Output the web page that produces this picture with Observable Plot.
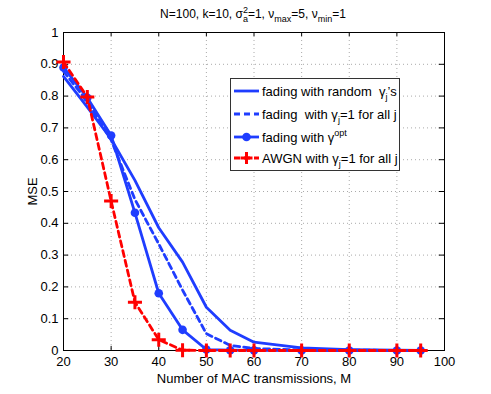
<!DOCTYPE html>
<html>
<head>
<meta charset="utf-8">
<script src="https://cdn.jsdelivr.net/npm/d3@7"></script>
<script src="https://cdn.jsdelivr.net/npm/@observablehq/plot@0.6"></script>
<style>
  html, body { margin: 0; padding: 0; background: #fff; }
  #chart { width: 491px; height: 394px; }
</style>
</head>
<body>
<div id="chart"></div>
<script>
const M = [20, 25, 30, 35, 40, 45, 50, 55, 60, 70, 80, 90, 95];
const randomGamma = [0.862, 0.765, 0.665, 0.535, 0.386, 0.278, 0.136, 0.064, 0.026, 0.008, 0.003, 0.001, 0.0005];
const unitGamma   = [0.878, 0.783, 0.662, 0.475, 0.335, 0.19, 0.053, 0.016, 0.006, 0.002, 0.001, 0.0005, 0.0003];
const optGamma    = [0.89, 0.795, 0.676, 0.433, 0.18, 0.065, 0.003, 0.001, 0.0005, 0, 0, 0, 0];
const awgn        = [0.907, 0.797, 0.47, 0.152, 0.034, 0.001, 0, 0, 0, 0, 0, 0, 0];
const xTicks = [20, 30, 40, 50, 60, 70, 80, 90, 100];
const yTicks = [0, 0.1, 0.2, 0.3, 0.4, 0.5, 0.6, 0.7, 0.8, 0.9, 1];
const yTickLabels = ["0", "0.1", "0.2", "0.3", "0.4", "0.5", "0.6", "0.7", "0.8", "0.9", "1"];

const BLUE = "#1f3dff";
const RED = "#ff0000";

const rows = (ys) => M.map((m, i) => ({m, v: ys[i]}));

const plot = Plot.plot({
  width: 491,
  height: 394,
  marginLeft: 63,
  marginRight: 47,
  marginTop: 32,
  marginBottom: 44,
  style: {fontFamily: "'Liberation Sans', Arial, sans-serif", fontSize: "13px", color: "black", background: "white"},
  x: {domain: [20, 100]},
  y: {domain: [0, 1]},
  marks: [
    Plot.gridX(xTicks.slice(1, -1), {stroke: "#aaa", strokeOpacity: 1, strokeDasharray: "1,3"}),
    Plot.gridY(yTicks.slice(1, -1), {stroke: "#aaa", strokeOpacity: 1, strokeDasharray: "1,3"}),
    Plot.ruleX(xTicks, {y1: 0, y2: 0.013, stroke: "black"}),
    Plot.ruleX(xTicks, {y1: 0.987, y2: 1, stroke: "black"}),
    Plot.ruleY(yTicks, {x1: 20, x2: 21.1, stroke: "black"}),
    Plot.ruleY(yTicks, {x1: 98.9, x2: 100, stroke: "black"}),
    Plot.axisX({ticks: xTicks, tickSize: 0, tickPadding: 6, fontSize: 13, label: "Number of MAC transmissions, M", labelAnchor: "center", labelArrow: "none", labelOffset: 32}),
    Plot.axisY({ticks: yTicks, tickFormat: (d) => yTickLabels[yTicks.indexOf(d)], tickSize: 0, tickPadding: 5, fontSize: 13, label: "MSE", labelAnchor: "center", labelArrow: "none", labelOffset: 36}),
    Plot.frame({stroke: "black"}),
    Plot.line(rows(randomGamma), {x: "m", y: "v", stroke: BLUE, strokeWidth: 2.8}),
    Plot.line(rows(unitGamma), {x: "m", y: "v", stroke: BLUE, strokeWidth: 2.8, strokeDasharray: "6,4"}),
    Plot.line(rows(optGamma), {x: "m", y: "v", stroke: BLUE, strokeWidth: 2.8}),
    Plot.dot(rows(optGamma), {x: "m", y: "v", fill: BLUE, r: 4.3}),
    Plot.line(rows(awgn), {x: "m", y: "v", stroke: RED, strokeWidth: 2.8, strokeDasharray: "6,4"}),
    Plot.dot(rows(awgn), {x: "m", y: "v", symbol: "plus", stroke: RED, strokeWidth: 3, r: 4.6})
  ]
});
document.getElementById("chart").appendChild(plot);

const svg = d3.select(plot);
const FONT = "'Liberation Sans', Arial, sans-serif";

// Title with sub/superscripts
const title = svg.append("text")
  .attr("x", 253).attr("y", 18)
  .attr("text-anchor", "middle")
  .attr("font-family", FONT).attr("font-size", 12).attr("fill", "black");
title.append("tspan").text("N=100, k=10, \u03C3");
title.append("tspan").attr("font-size", 9).attr("dy", -5).text("2");
title.append("tspan").attr("font-size", 9).attr("dx", -5).attr("dy", 9).text("a");
title.append("tspan").attr("dy", -4).text("=1, \u03BD");
title.append("tspan").attr("font-size", 9).attr("dy", 4).text("max");
title.append("tspan").attr("dy", -4).text("=5, \u03BD");
title.append("tspan").attr("font-size", 9).attr("dy", 4).text("min");
title.append("tspan").attr("dy", -4).text("=1");

// Legend
const lg = svg.append("g").attr("font-family", FONT).attr("font-size", 13).attr("fill", "black").attr("text-anchor", "start");
lg.append("rect").attr("x", 230.5).attr("y", 78.5).attr("width", 169).attr("height", 92)
  .attr("fill", "white").attr("stroke", "#333").attr("stroke-width", 1);
const items = [
  {y: 91, dash: null, marker: null},
  {y: 114, dash: "6,4", marker: null},
  {y: 137, dash: null, marker: "dot"},
  {y: 158, dash: "6,4", marker: "plus", color: RED}
];
items.forEach(it => {
  const c = it.color || BLUE;
  const l = lg.append("line").attr("x1", 234).attr("x2", 259).attr("y1", it.y).attr("y2", it.y)
    .attr("stroke", c).attr("stroke-width", 2.8);
  if (it.dash) l.attr("stroke-dasharray", it.dash);
  if (it.marker === "dot") lg.append("circle").attr("cx", 246.5).attr("cy", it.y).attr("r", 4.3).attr("fill", c);
  if (it.marker === "plus") {
    lg.append("path").attr("d", `M${246.5 - 6},${it.y}H${246.5 + 6}M246.5,${it.y - 6}V${it.y + 6}`)
      .attr("stroke", c).attr("stroke-width", 3).attr("fill", "none");
  }
});
function legendText(y, parts) {
  const t = lg.append("text").attr("x", 262).attr("y", y + 4.5);
  parts.forEach(p => {
    const s = t.append("tspan").text(p.t);
    if (p.fs) s.attr("font-size", p.fs);
    if (p.dy) s.attr("dy", p.dy);
  });
}
legendText(91, [{t: "fading with random  \u03B3"}, {t: "j", fs: 9, dy: 4}, {t: "\u2019s", dy: -4}]);
legendText(114, [{t: "fading  with \u03B3"}, {t: "j", fs: 9, dy: 4}, {t: "=1 for all j", dy: -4}]);
legendText(137, [{t: "fading with \u03B3"}, {t: "opt", fs: 9, dy: -6}]);
legendText(158, [{t: "AWGN with \u03B3"}, {t: "j", fs: 9, dy: 4}, {t: "=1 for all j", dy: -4}]);
</script>
</body>
</html>
